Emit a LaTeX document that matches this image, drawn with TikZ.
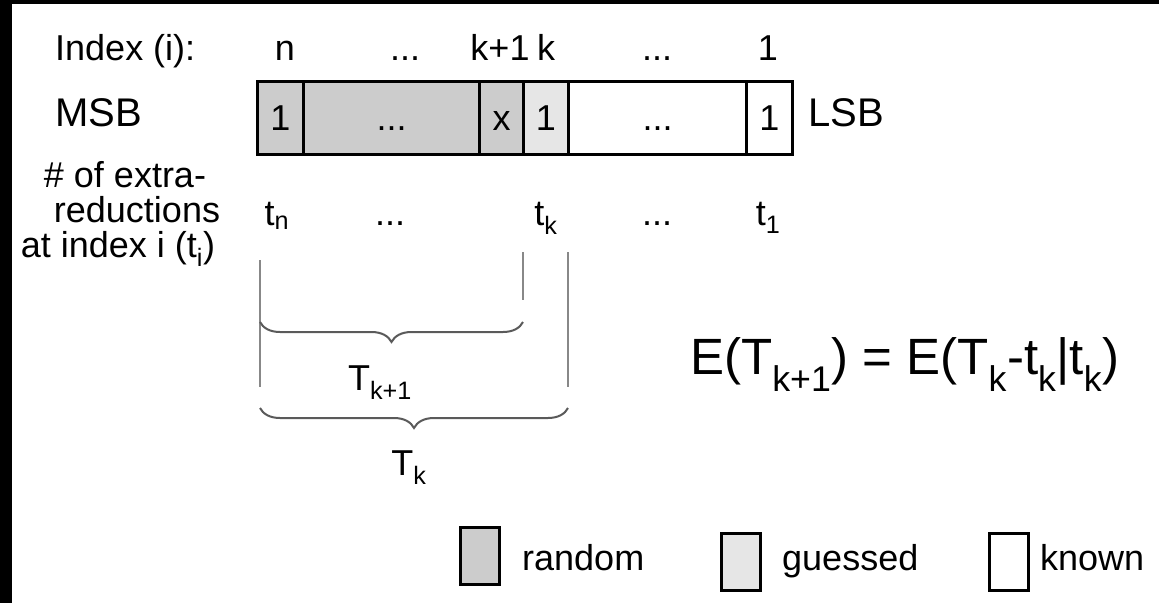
\documentclass[tikz,border=0pt]{standalone}
\usepackage{fontspec}
\setmainfont{Liberation Sans}
\usetikzlibrary{decorations.pathreplacing}
\definecolor{rnd}{HTML}{CCCCCC}
\definecolor{gss}{HTML}{E6E6E6}
\definecolor{ln}{HTML}{888888}
\definecolor{br}{HTML}{5A5A5A}
\newcommand{\sbs}[1]{\textsubscript{#1}}
\begin{document}
\begin{tikzpicture}[x=1pt,y=-1pt,
  lbl/.style={inner sep=0pt, font=\fontsize{36}{40}\selectfont, anchor=base},
  lblw/.style={lbl, anchor=base west},
  big/.style={inner sep=0pt, font=\fontsize{40}{44}\selectfont, anchor=base west},
  eq/.style={inner sep=0pt, font=\fontsize{51}{56}\selectfont, anchor=base west},
  cell/.style={draw=black, line width=3pt, inner sep=0pt, minimum height=73pt,
    text height=25pt, text depth=0pt, anchor=north west, font=\fontsize{36}{40}\selectfont},
  vline/.style={draw=ln, line width=2pt},
  brc/.style={draw=br, line width=2pt, decorate, decoration={brace, amplitude=20pt, mirror}},
  key/.style={draw=black, line width=2.5pt, inner sep=0pt, minimum width=39pt, minimum height=57pt, anchor=north west}]
\useasboundingbox (0,0) rectangle (1159,603);
\fill[black] (0,0) rectangle (1159,603);
\fill[white] (12,4) rectangle (1159,603);
% top row
\node[lblw] (idx) at (55,60) {Index (i):};
\node[lbl] (in) at (285,60) {n};
\node[lbl] (id1) at (405,60) {...};
\node[lbl] (ik1) at (500,60) {k+1};
\node[lbl] (ik) at (546,60) {k};
\node[lbl] (id2) at (657,60) {...};
\node[lbl] (i1) at (768,60) {1};
% bit row
\node[big] (msb) at (55,126) {MSB};
\node[cell, fill=rnd, minimum width=46pt] (c1) at (256,80) {1};
\node[cell, fill=rnd, minimum width=176pt] (c2) at (302,80) {...};
\node[cell, fill=rnd, minimum width=44pt] (c3) at (478,80) {x};
\node[cell, fill=gss, minimum width=45pt] (c4) at (522,80) {1};
\node[cell, fill=white, minimum width=178pt] (c5) at (567,80) {...};
\node[cell, fill=white, minimum width=46pt] (c6) at (745,80) {1};
\node[big] (lsb) at (808,126) {LSB};
% extra reductions label
\node[lbl] (l1) at (125,187) {\# of extra-};
\node[lbl] (l2) at (137,222) {reductions};
\node[lbl] (l3) at (118,257) {at index i (t\sbs{i})};
\node[lbl] (tn) at (277,225) {t\sbs{n}};
\node[lbl] (td1) at (390,225) {...};
\node[lbl] (tk) at (546,225) {t\sbs{k}};
\node[lbl] (td2) at (657,225) {...};
\node[lbl] (t1) at (768,225) {t\sbs{1}};
% vertical lines
\coordinate (a1) at (260,260);
\coordinate (a2) at (260,387);
\coordinate (b1) at (523,252);
\coordinate (b2) at (523,300);
\coordinate (c1t) at (568,252);
\coordinate (c2b) at (568,387);
\draw[vline] (a1) -- (a2);
\draw[vline] (b1) -- (b2);
\draw[vline] (c1t) -- (c2b);
% braces
\coordinate (u1) at (260,322);
\coordinate (u2) at (523,322);
\coordinate (w1) at (260,408);
\coordinate (w2) at (568,408);
\draw[brc] (u1) -- (u2);
\draw[brc] (w1) -- (w2);
\node[lbl] (Tk1) at (380,390) {T\sbs{k+1}};
\node[lbl] (Tk) at (409,475) {T\sbs{k}};
% equation
\node[eq] (eqn) at (690,374) {E(T\sbs{k+1}) = E(T\sbs{k}-t\sbs{k}|t\sbs{k})};
% legend
\node[key, fill=rnd] (kr) at (459,526) {};
\node[lblw] (kr-t) at (522,570) {random};
\node[key, fill=gss] (kg) at (720,532) {};
\node[lblw] (kg-t) at (782,570) {guessed};
\node[key, fill=white] (kk) at (988,532) {};
\node[lblw] (kk-t) at (1040,570) {known};
\end{tikzpicture}
\end{document}
